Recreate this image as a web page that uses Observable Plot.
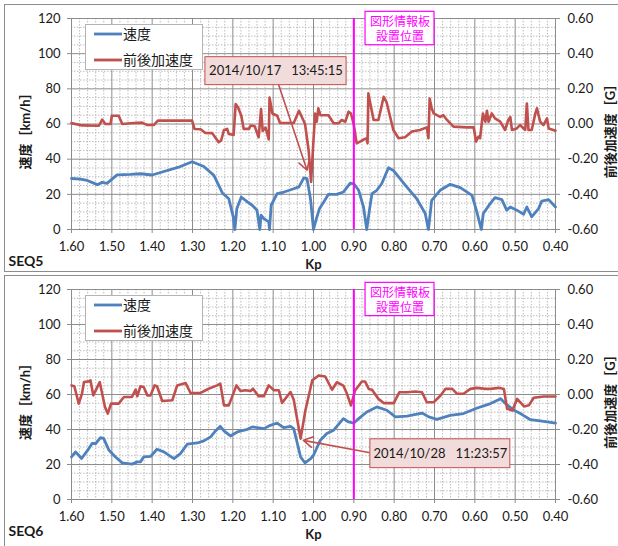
<!DOCTYPE html>
<html><head><meta charset="utf-8">
<script src="https://cdn.jsdelivr.net/npm/d3@7"></script>
<script src="https://cdn.jsdelivr.net/npm/@observablehq/plot@0.6"></script>
<style>
body{margin:0;background:#fff;}
#chart svg{display:block;}
</style></head><body><div id="chart"></div>
<script>
// ---- axis ticks ----
const kpTicks = [1.6,1.5,1.4,1.3,1.2,1.1,1.0,0.9,0.8,0.7,0.6,0.5,0.4];
const speedTicks = [0,20,40,60,80,100,120];
const accTicks = [-0.6,-0.4,-0.2,0,0.2,0.4,0.6];
const seriesNames = ["速度","前後加速度"];
const signKp = 0.9;
const signLabel = "図形情報板\n設置位置";

// ---- SEQ5 ----
const seq5SpeedKp = [1.600,1.578,1.561,1.536,1.524,1.512,1.487,1.454,1.429,1.400,1.371,1.330,1.301,1.272,1.247,1.226,1.210,1.199,1.195,1.190,1.179,1.164,1.152,1.140,1.133,1.130,1.123,1.111,1.109,1.105,1.090,1.073,1.049,1.036,1.024,1.016,1.007,1.000,0.993,0.985,0.975,0.963,0.942,0.926,0.909,0.900,0.888,0.876,0.868,0.862,0.855,0.843,0.831,0.814,0.802,0.769,0.744,0.723,0.715,0.707,0.686,0.661,0.636,0.607,0.595,0.584,0.579,0.562,0.550,0.533,0.521,0.512,0.496,0.479,0.471,0.459,0.442,0.434,0.417,0.400];
const seq5Speed = [29,28.7,27.9,25.5,26.8,26.2,31.1,31.3,31.7,31.0,33.0,35.8,38.5,35.8,30.8,20.8,17.5,7.2,0,12,18.5,15.7,13.8,10.9,0,8.1,6.2,4.3,0,13.8,20.4,21.3,23.2,24.2,29.4,28.9,16.6,0,6,12,15.5,20,20,21.3,26.4,26,22.3,12.8,0,10,20.4,22.3,26,35.1,33.6,24.2,17.5,9.1,0,16.6,22.3,25.7,23.8,19.4,10,0,9.1,14.7,18.1,17,11,12.8,11,8.7,12.8,7.2,11.9,16.2,17,12.8];
const seq5AccKp = [1.600,1.574,1.532,1.524,1.516,1.503,1.500,1.483,1.474,1.454,1.425,1.412,1.396,1.386,1.301,1.295,1.280,1.268,1.251,1.235,1.229,1.222,1.214,1.210,1.198,1.193,1.187,1.179,1.173,1.160,1.156,1.146,1.136,1.130,1.126,1.119,1.111,1.109,1.102,1.090,1.083,1.049,1.036,1.021,1.012,1.006,1.000,0.996,0.992,0.988,0.983,0.963,0.950,0.938,0.930,0.921,0.913,0.907,0.900,0.893,0.880,0.868,0.866,0.864,0.855,0.851,0.839,0.826,0.819,0.802,0.789,0.773,0.756,0.736,0.719,0.715,0.712,0.707,0.702,0.686,0.678,0.669,0.653,0.620,0.603,0.597,0.591,0.587,0.580,0.574,0.570,0.566,0.558,0.550,0.537,0.525,0.517,0.512,0.508,0.496,0.488,0.475,0.471,0.467,0.459,0.450,0.446,0.438,0.430,0.421,0.417,0.400];
const seq5Acc = [0.005,-0.008,-0.01,0.025,0,0,0.047,0.047,0,0.004,0.008,-0.006,-0.006,0.019,0.019,-0.028,-0.030,-0.051,-0.052,-0.104,-0.094,-0.034,-0.028,-0.057,-0.062,0.113,0.094,0.047,-0.028,-0.028,-0.009,-0.012,-0.075,0.085,-0.04,-0.02,-0.088,0.151,0.06,0.047,0.006,0.006,0.075,0.0,-0.151,-0.33,-0.09,0.06,0.013,0.089,0.05,0.05,0.004,0.004,0.023,0.013,0.07,0.06,-0.006,-0.11,-0.094,-0.08,-0.11,0.174,0.07,0.023,0.023,0.155,0.125,-0.034,-0.081,-0.075,-0.043,-0.034,-0.019,-0.081,0.145,0.089,0.06,0.04,0.05,0.023,-0.015,-0.019,-0.019,-0.1,-0.072,-0.081,0.06,0.013,0.075,0.013,0.06,0.032,0.013,-0.034,0.023,0.04,-0.034,-0.025,-0.006,-0.034,0.117,-0.034,-0.034,0.06,0.089,0.013,-0.006,0.032,-0.025,-0.038];

// ---- SEQ6 ----
const seq6SpeedKp = [1.600,1.590,1.575,1.557,1.549,1.540,1.528,1.520,1.507,1.491,1.474,1.450,1.437,1.429,1.421,1.404,1.388,1.371,1.346,1.330,1.313,1.288,1.272,1.255,1.243,1.231,1.222,1.206,1.189,1.164,1.152,1.123,1.107,1.090,1.074,1.057,1.049,1.040,1.032,1.021,1.007,1.000,0.983,0.967,0.950,0.926,0.913,0.900,0.888,0.868,0.843,0.818,0.797,0.768,0.731,0.714,0.694,0.661,0.628,0.594,0.561,0.536,0.524,0.503,0.487,0.462,0.429,0.400];
const seq6Speed = [24.3,27.2,23.4,29.1,32,32,35.4,34.8,28.1,24.3,20.9,20.2,21.5,21.5,24.3,24.6,28.7,27.2,23.4,26.2,31.6,32.3,33.5,35.8,39.2,41.8,39.2,36.3,38.6,40.1,41.5,40.5,42.4,43.7,41.1,41.8,40.5,32,24.3,20.9,23.4,25.3,33.9,37.7,39.6,46.2,44.3,43.7,46.2,50,52.9,51,47.2,47.7,49.4,47.2,45.8,48.1,49.1,52.3,54.8,57.6,54.8,51,49.1,45.6,44.7,43.7];
const seq6AccKp = [1.600,1.593,1.582,1.574,1.569,1.557,1.553,1.546,1.530,1.517,1.510,1.502,1.483,1.470,1.450,1.441,1.437,1.429,1.421,1.412,1.404,1.394,1.388,1.375,1.350,1.338,1.317,1.305,1.280,1.260,1.239,1.231,1.222,1.210,1.191,1.181,1.169,1.156,1.150,1.136,1.123,1.111,1.098,1.086,1.078,1.057,1.049,1.032,1.020,1.003,0.987,0.971,0.954,0.942,0.926,0.917,0.907,0.897,0.880,0.872,0.863,0.855,0.839,0.826,0.801,0.787,0.768,0.748,0.731,0.719,0.702,0.685,0.673,0.656,0.644,0.628,0.611,0.594,0.574,0.561,0.541,0.528,0.520,0.507,0.495,0.478,0.466,0.454,0.429,0.400];
const seq6Acc = [0.052,0.047,-0.052,0.005,0.071,0.075,0.081,-0.005,0.071,-0.071,-0.109,-0.052,-0.052,-0.014,-0.014,0.028,-0.010,0.047,0.043,-0.005,-0.005,0.052,0.047,-0.037,-0.033,0.052,0.066,0.009,0.009,0.033,0.052,0.062,-0.062,-0.062,0.052,0.020,0.024,0.020,0.033,-0.010,-0.010,0.052,0.024,0.024,-0.048,0.014,-0.030,-0.252,-0.09,0.081,0.109,0.103,0.027,0.07,0.051,0.004,-0.063,0.023,0.074,0.074,0.032,0.027,-0.025,-0.049,-0.049,0.013,0.013,0.017,0.013,-0.044,-0.044,-0.006,0.032,0.032,0.004,0.004,0.032,0.038,0.032,0.032,0.038,0.032,-0.082,-0.091,-0.025,-0.068,-0.062,-0.019,-0.011,-0.011];

// ---- annotations (data coordinates: kp, km/h) ----
const seq5Note = {text:"2014/10/17\u00a0\u00a0\u00a013:45:15", kp1:1.268, kp2:0.918, v1:82.1, v2:98.0, kp:1.093, v:90.0, fromKp:1.086, fromV:82.1, toKp:1.016, toV:33.7};
const seq6Note = {text:"2014/10/28\u00a0\u00a0\u00a011:23:57", kp1:0.859, kp2:0.512, v1:17.9, v2:34.4, kp:0.6855, v:26.1, fromKp:0.856, fromV:26.6, toKp:1.025, toV:33.8};
const signBox = {kp1:0.871, kp2:0.700, v1:104.8, v2:123.8, kp:0.7855, v:114.3};

const BLUE = "#4F81BD", RED = "#C0504D";
const FONT = "Lato, 'Noto Sans CJK JP', sans-serif";
const accToY = a => (a + 0.6) * 100;

function zip(kp, vals, key) { return kp.map((k, i) => ({kp: k, [key]: vals[i]})); }

const minorY = d3.range(0, 121, 5).filter(d => d % 20 !== 0);
const minorX = d3.range(0, 61).map(i => +(0.4 + i * 0.02).toFixed(2)).filter(d => Math.round(d * 100) % 10 !== 0);

function panel({name, speed, acc, note, height, mt, mb}) {
  const plot = Plot.plot({
    width: 618, height, marginLeft: 71, marginRight: 63, marginTop: mt, marginBottom: mb,
    style: {fontFamily: FONT, fontSize: "13px", color: "#1a1a1a", background: "#fff", overflow: "visible"},
    x: {domain: [1.6, 0.4]},
    y: {domain: [0, 120]},
    marks: [
      Plot.ruleY(minorY, {stroke: "#bdbdbd", strokeDasharray: "1.5,1.5", strokeWidth: 1}),
      Plot.ruleX(minorX, {stroke: "#bdbdbd", strokeDasharray: "1.5,1.5", strokeWidth: 1}),
      Plot.ruleY(speedTicks, {stroke: "#8c8c8c", strokeWidth: 1}),
      Plot.ruleX(kpTicks, {stroke: "#8c8c8c", strokeWidth: 1}),
      Plot.axisY({ticks: speedTicks, tickSize: 4, tickPadding: 7, tickFormat: d => String(d), label: null, stroke: "#8c8c8c"}),
      Plot.axisY({anchor: "right", ticks: accTicks.map(accToY), tickSize: 4, tickPadding: 8,
        tickFormat: d => ((d - 60) / 100).toFixed(2), label: null, stroke: "#8c8c8c"}),
      Plot.axisX({ticks: kpTicks, tickSize: 4, tickPadding: 8, tickFormat: d => d.toFixed(2), label: null, stroke: "#8c8c8c"}),
      Plot.line(speed, {x: "kp", y: "v", stroke: BLUE, strokeWidth: 2.8, strokeLinejoin: "round"}),
      Plot.line(acc, {x: "kp", y: d => accToY(d.a), stroke: RED, strokeWidth: 2.6, strokeLinejoin: "round"}),
      Plot.ruleX([signKp], {stroke: "#FF00FF", strokeWidth: 2}),
      Plot.rect([signBox], {x1: "kp1", x2: "kp2", y1: "v1", y2: "v2", fill: "#fff", stroke: "#FF00FF", strokeWidth: 1.2}),
      Plot.text([signBox], {x: "kp", y: "v", text: () => signLabel, fill: "#FF00FF", fontSize: 12, lineHeight: 1.3}),
      Plot.arrow([note], {x1: "fromKp", y1: "fromV", x2: "toKp", y2: "toV", stroke: RED, strokeWidth: 1.6, headLength: 10, bend: 0}),
      Plot.rect([note], {x1: "kp1", x2: "kp2", y1: "v1", y2: "v2", fill: "#F2DCDB", stroke: RED, strokeWidth: 1}),
      Plot.text([note], {x: "kp", y: "v", text: "text", fill: "#1a1a1a", fontSize: 13}),
      Plot.text(["速度［km/h］"], {frameAnchor: "left", textAnchor: "middle", dx: -46, dy: 4, rotate: -90, fontWeight: "bold", fontSize: 13, fill: "#1a1a1a"}),
      Plot.text(["前後加速度［G］"], {frameAnchor: "right", textAnchor: "middle", dx: 55, dy: 4, rotate: -90, fontWeight: "bold", fontSize: 13, fill: "#1a1a1a"}),
      Plot.text(["Kp"], {frameAnchor: "bottom", dy: 39, fontWeight: "bold", fontSize: 13, fill: "#1a1a1a"}),
      Plot.text([name], {frameAnchor: "bottom-left", dx: -63, dy: 36, textAnchor: "start", fontWeight: "bold", fontSize: 14, fill: "#1a1a1a"})
    ]
  });
  const svg = d3.select(plot);
  // legend
  const lg = svg.append("g").attr("transform", `translate(85,${mt + 6})`);
  lg.append("rect").attr("x", 0.5).attr("y", 0.5).attr("width", 117).attr("height", 45)
    .attr("fill", "#fff").attr("stroke", "#b4b4b4");
  [[BLUE, 10, seriesNames[0]], [RED, 36, seriesNames[1]]].forEach(([c, y, t]) => {
    lg.append("line").attr("x1", 9).attr("x2", 37).attr("y1", y).attr("y2", y)
      .attr("stroke", c).attr("stroke-width", 2.8);
    lg.append("text").attr("x", 38).attr("y", y).attr("dy", "0.35em").attr("text-anchor", "start")
      .attr("font-size", 14).attr("fill", "#1a1a1a").text(t);
  });
  return plot;
}

const top5 = panel({name: "SEQ5", speed: zip(seq5SpeedKp, seq5Speed, "v"), acc: zip(seq5AccKp, seq5Acc, "a"), note: seq5Note, height: 273, mt: 18, mb: 44});
d3.select(top5).append("rect").attr("x", 4.5).attr("y", 4.5).attr("width", 700).attr("height", 267).attr("fill", "none").attr("stroke", "#8c8c8c");
const bot6 = panel({name: "SEQ6", speed: zip(seq6SpeedKp, seq6Speed, "v"), acc: zip(seq6AccKp, seq6Acc, "a"), note: seq6Note, height: 273, mt: 16, mb: 47});
d3.select(bot6).append("rect").attr("x", 4.5).attr("y", 2.5).attr("width", 700).attr("height", 300).attr("fill", "none").attr("stroke", "#8c8c8c");
document.getElementById("chart").append(top5, bot6);
</script></body></html>
